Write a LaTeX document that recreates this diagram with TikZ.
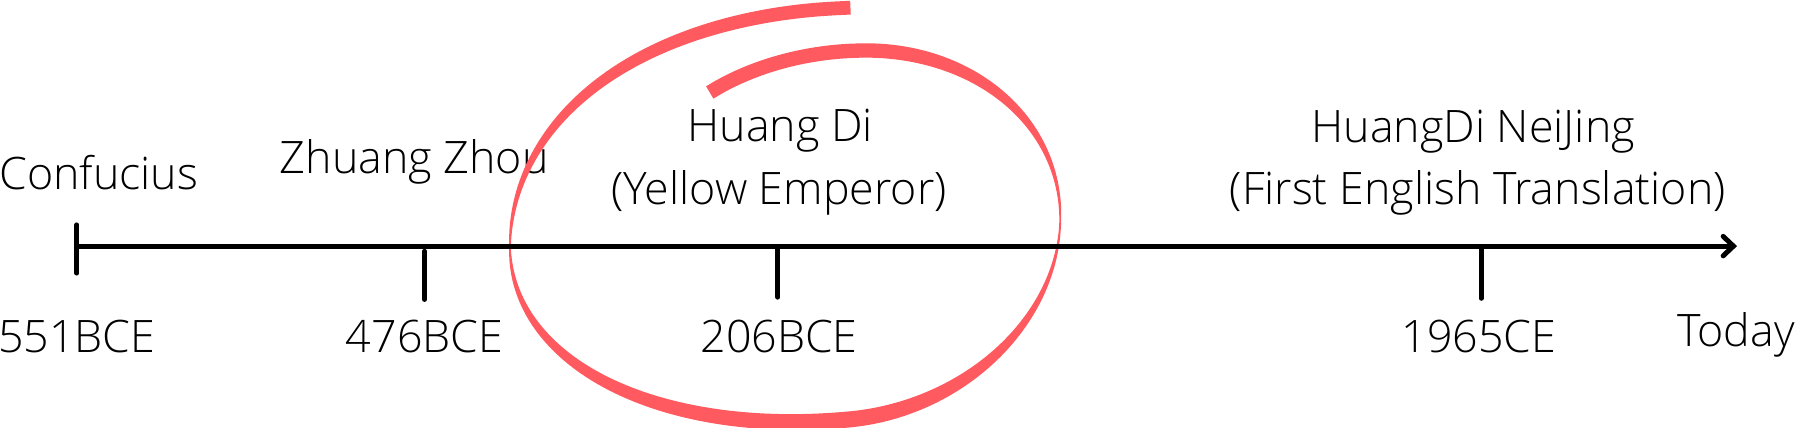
\documentclass[tikz,border=0pt]{standalone}
\usepackage{fontspec}
\setmainfont{Open Sans Light}
\usetikzlibrary{arrows.meta,calc}
\definecolor{loopred}{HTML}{FF5A5F}
\begin{document}
\begin{tikzpicture}[x=1pt,y=-1pt,
  lbl/.style={anchor=base,inner sep=0pt,font=\fontsize{39}{47}\selectfont},
  tickline/.style={line width=4.3pt,line cap=round}]
\useasboundingbox (0,0) rectangle (1568,373);
% labels
\node[lbl] (conf) at (86,165) {Confucius};
\node[lbl] (zz) at (361,151.5) {Zhuang Zhou};
\node[lbl] (hd1) at (680,123.5) {Huang Di};
\node[lbl] (hd2) at (679,178) {(Yellow Emperor)};
\node[lbl] (nj1) at (1284,124) {HuangDi NeiJing};
\node[lbl] (nj2) at (1288,178) {(First English Translation)};
\node[lbl] (d551) at (67,307) {551BCE};
\node[lbl] (d476) at (370,307) {476BCE};
\node[lbl] (d206) at (679,307) {206BCE};
\node[lbl] (d1965) at (1289,307) {1965CE};
\node[lbl] (today) at (1513,302) {Today};
% red hand-drawn loop: spiral centre line sampled every 3 degrees
\foreach \t [count=\i] in {88,91,...,493} {
  \pgfmathsetmacro\Pcs{cos(\t)}
  \pgfmathsetmacro\Psn{sin(\t)}
  \pgfmathsetmacro\Pu{abs(\Pcs)}
  \pgfmathsetmacro\Pv{abs(\Psn)}
  \pgfmathsetmacro\Pk{(\t>90)*(\t<180)}
  \pgfmathsetmacro\Pcx{735 + max(0, min(\t,450)-270)/9}
  \pgfmathsetmacro\Pcy{235 - \t/9}
  \pgfmathsetmacro\Pb{(\t<270)*(218-(\t-90)*0.31667) + (\t>270)*(161-(\t-270)*0.11111)}
  \pgfmathsetmacro\Pa{179 + (\Pcs<0)*((\t<360)*111.5 + (\t>360)*21)}
  \pgfmathsetmacro\Px{\Pcx + \Pa*\Pcs*(1+\Pk*(0.1-0.1*\Pu))}
  \pgfmathsetmacro\Py{\Pcy - \Pb*\Psn*(1+\Pk*(0.1-0.1*\Pv))}
  \pgfmathsetmacro\Pc{(\t<270)*(10.5+max(\t-90,0)/90) + (\t>270)*(12.5-(\t-270)/120)}
  \pgfmathsetmacro\Pwv{\Pv*(1-(\Pcs>0)*(0.6-0.6*\Pv))}
  \pgfmathsetmacro\Pw{(\t>450)*12.5 + (\t<450)*(1.5+\Pc*\Pwv)}
  \coordinate (c\i) at (\Px,\Py);
  \expandafter\xdef\csname cw\i\endcsname{\Pw}
}
\def\N{136}
\gdef\Llist{}\gdef\Rlist{}
\foreach \i in {1,...,136} {
  \pgfmathtruncatemacro\h{max(\i-1,1)}
  \pgfmathtruncatemacro\j{min(\i+1,\N)}
  \pgfmathsetmacro\d{\csname cw\i\endcsname/2}
  \coordinate (n\i) at ($(c\h)!\d pt!90:(c\j)$);
  \coordinate (L\i) at ($(c\i)+(n\i)-(c\h)$);
  \coordinate (R\i) at ($(c\i)-(n\i)+(c\h)$);
  \xdef\Llist{\Llist (L\i)}
  \xdef\Rlist{(R\i) \Rlist}
}
\edef\temp{\noexpand\fill[fill=loopred] plot[smooth,tension=0.5] coordinates {\Llist} -- plot[smooth,tension=0.5] coordinates {\Rlist} -- cycle;}
\temp
% axis
\coordinate (axs) at (67,214.5);
\coordinate (axe) at (1514,214.5);
\draw[line width=4.3pt,-{Straight Barb[length=9pt,width=17pt,line cap=round]}] (axs) -- (axe);
% ticks
\coordinate (t0a) at (67,196); \coordinate (t0b) at (67,238);
\coordinate (t1a) at (370,219); \coordinate (t1b) at (370,261);
\coordinate (t2a) at (678,217); \coordinate (t2b) at (678,259);
\coordinate (t3a) at (1291,217); \coordinate (t3b) at (1291,260);
\draw[tickline] (t0a) -- (t0b);
\draw[tickline] (t1a) -- (t1b);
\draw[tickline] (t2a) -- (t2b);
\draw[tickline] (t3a) -- (t3b);
\end{tikzpicture}
\end{document}
